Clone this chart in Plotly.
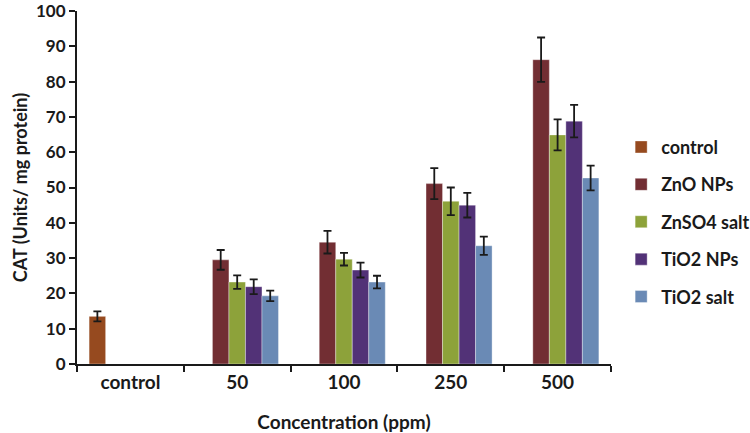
import plotly.graph_objects as go

categories = ["control", "50", "100", "250", "500"]
series_names = ["control", "ZnO NPs", "ZnSO4 salt", "TiO2 NPs", "TiO2 salt"]
control_vals = [13.5, None, None, None, None]
control_err = [1.4, 0, 0, 0, 0]
zno_vals = [None, 29.5, 34.5, 51.1, 86.2]
zno_err = [0, 2.8, 3.2, 4.4, 6.3]
znso4_vals = [None, 23.2, 29.7, 46.1, 64.9]
znso4_err = [0, 1.9, 1.8, 3.9, 4.4]
tio2np_vals = [None, 21.9, 26.6, 45.0, 68.8]
tio2np_err = [0, 2.1, 2.1, 3.5, 4.6]
tio2salt_vals = [None, 19.3, 23.2, 33.5, 52.7]
tio2salt_err = [0, 1.5, 1.8, 2.6, 3.5]
y_ticks = [0, 10, 20, 30, 40, 50, 60, 70, 80, 90, 100]

colors = ["#964A1F", "#722E33", "#8DA23A", "#523277", "#6A8AB5"]
values = [control_vals, zno_vals, znso4_vals, tio2np_vals, tio2salt_vals]
errors = [control_err, zno_err, znso4_err, tio2np_err, tio2salt_err]

FONT = "Lato"
fig = go.Figure()
for name, vals, errs, col in zip(series_names, values, errors, colors):
    fig.add_trace(go.Bar(
        x=categories, y=vals, name=name, legendgroup=name,
        marker=dict(color=col, line=dict(color="rgba(255,255,255,0.35)", width=1)),
        error_y=dict(type="data", array=errs, visible=True, color="#1a1a1a",
                     thickness=1.8, width=4),
    ))

fig.update_layout(
    width=750, height=433,
    barmode="group", bargap=0.227, bargroupgap=0,
    plot_bgcolor="white", paper_bgcolor="white",
    margin=dict(l=77, r=139, t=11, b=69, autoexpand=False),
    font=dict(family=FONT, size=18, color="#1a1a1a", weight="bold"),
    showlegend=True,
    legend=dict(x=1.019, xanchor="left", y=0.403, yanchor="middle",
                font=dict(family=FONT, size=18, color="#1a1a1a", weight="bold"),
                tracegroupgap=11, itemwidth=30, bgcolor="rgba(0,0,0,0)"),
)
fig.update_xaxes(
    type="category", showline=True, linecolor="#1a1a1a", linewidth=2,
    ticks="outside", tickson="boundaries", ticklen=6, tickwidth=2, tickcolor="#1a1a1a",
    showgrid=False, automargin=False, tickfont=dict(family=FONT, size=19, weight="bold"),
    title=dict(text="Concentration (ppm)", standoff=26,
               font=dict(family=FONT, size=19, weight="bold")),
)
fig.update_yaxes(
    range=[0, 100], tickvals=y_ticks, showline=True, linecolor="#1a1a1a", linewidth=2,
    ticks="outside", ticklen=6, tickwidth=2, tickcolor="#1a1a1a",
    showgrid=False, zeroline=False, automargin=True, ticklabeloverflow="allow",
    tickfont=dict(family=FONT, size=17, weight="bold"),
    title=dict(text="CAT (Units/ mg protein)", standoff=4,
               font=dict(family=FONT, size=18, weight="bold")),
)

fig.write_html("out.html", config={"displayModeBar": False},
               post_script="document.body.style.margin='0';")
